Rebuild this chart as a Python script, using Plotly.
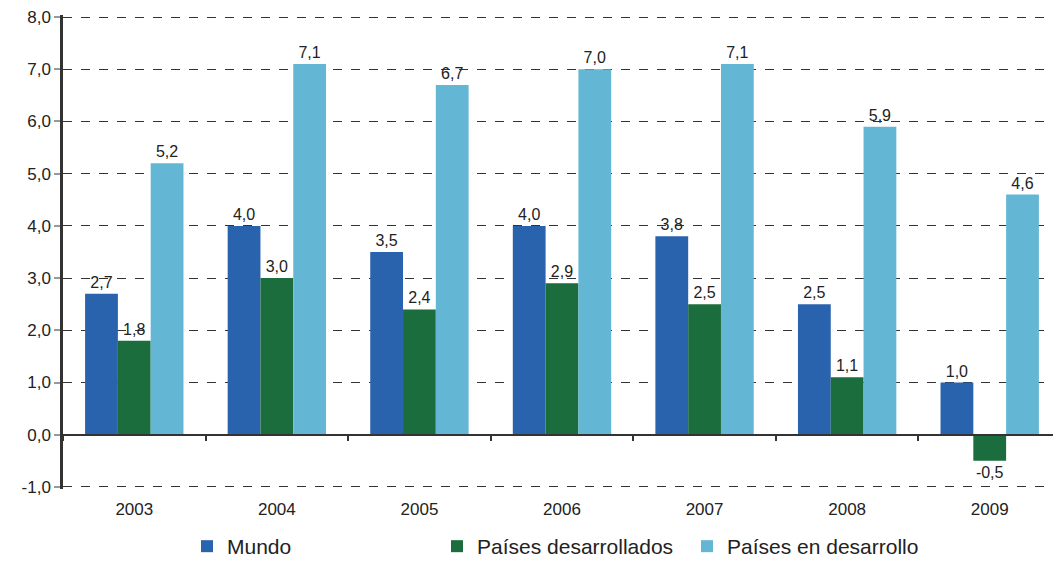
import plotly.graph_objects as go

years = ["2003", "2004", "2005", "2006", "2007", "2008", "2009"]
mundo = [2.7, 4.0, 3.5, 4.0, 3.8, 2.5, 1.0]
desarrollados = [1.8, 3.0, 2.4, 2.9, 2.5, 1.1, -0.5]
en_desarrollo = [5.2, 7.1, 6.7, 7.0, 7.1, 5.9, 4.6]
names = ["Mundo", "Países desarrollados", "Países en desarrollo"]
colors = ["#2962AD", "#1B6D3D", "#63B7D5"]
y_ticks = [-1, 0, 1, 2, 3, 4, 5, 6, 7, 8]
y_ticktext = ["-1,0", "0,0", "1,0", "2,0", "3,0", "4,0", "5,0", "6,0", "7,0", "8,0"]

def fmt(v):
    return f"{v:.1f}".replace(".", ",")

y_lo, y_hi = -1.04, 8.04

fig = go.Figure()
for name, vals, col in zip(names, [mundo, desarrollados, en_desarrollo], colors):
    fig.add_trace(go.Bar(
        x=years, y=vals, name=name, marker=dict(color=col, line=dict(width=0)),
        text=[fmt(v) for v in vals], textposition="outside", cliponaxis=False,
        textfont=dict(size=16, color="#222", family="Liberation Sans"),
    ))

# invisible trace to build the zero-line category axis with boundary ticks
fig.add_trace(go.Scatter(x=years, y=[0]*len(years), xaxis="x2", mode="markers",
                         marker=dict(opacity=0), showlegend=False, hoverinfo="skip"))

fig.update_layout(
    width=1053, height=559,
    margin=dict(l=55, r=0, t=7, b=78, autoexpand=False),
    paper_bgcolor="white", plot_bgcolor="white",
    barmode="group", bargap=0.31, bargroupgap=0,
    font=dict(family="Liberation Sans", size=17, color="#222"),
    xaxis=dict(showline=False, ticks="", showgrid=False, tickfont=dict(size=17),
               ticklabelstandoff=8, automargin=False),
    xaxis2=dict(overlaying="x", anchor="free", position=(0 - y_lo) / (y_hi - y_lo),
                matches="x", showticklabels=False, showline=True, linecolor="#333",
                linewidth=1.5, ticks="outside", tickson="boundaries", ticklen=6,
                tickcolor="#333", tickwidth=1.5, showgrid=False, automargin=False),
    yaxis=dict(range=[y_lo, y_hi], tickvals=y_ticks, ticktext=y_ticktext, showgrid=True,
               gridcolor="#333", griddash="dash", gridwidth=1.3,
               zeroline=True, zerolinecolor="#333", zerolinewidth=1.5,
               showline=True, linecolor="#333", linewidth=2.5,
               ticks="outside", ticklen=6, tickcolor="#999", tickwidth=1.5,
               tickfont=dict(size=17), automargin=False),
    legend=dict(orientation="h", x=0.5, xanchor="center", y=-0.1646, yanchor="bottom",
                font=dict(size=21, color="#222"), entrywidth=205, entrywidthmode="pixels",
                borderwidth=0),
)

fig.write_html("out.html")
